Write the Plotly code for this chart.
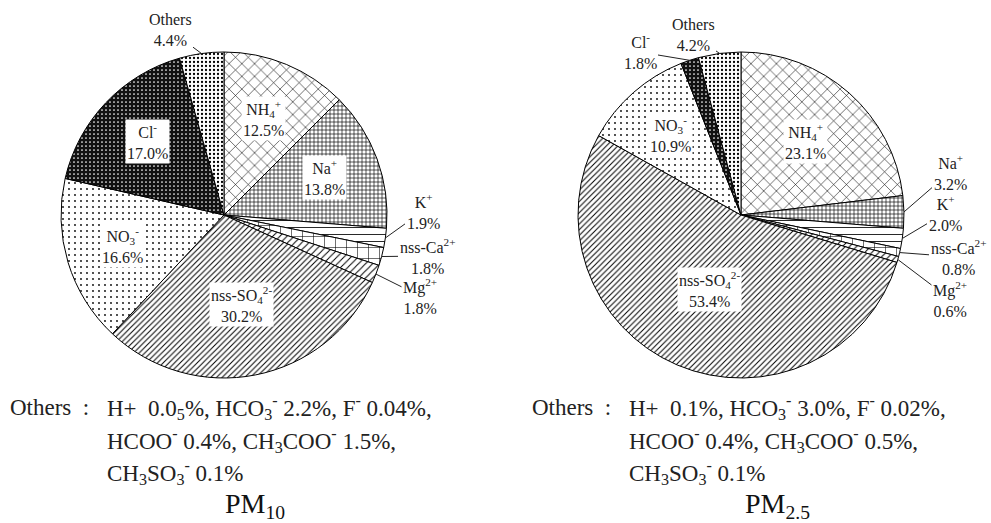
import math
import plotly.graph_objects as go

W, H = 991, 523

# ---------------- data ----------------
ions = ["NH4+", "Na+", "K+", "nss-Ca2+", "Mg2+", "nss-SO42-", "NO3-", "Cl-", "Others"]
ion_labels = ["NH<sub>4</sub><sup>+</sup>", "Na<sup>+</sup>", "K<sup>+</sup>",
              "nss-Ca<sup>2+</sup>", "Mg<sup>2+</sup>", "nss-SO<sub>4</sub><sup>2-</sup>",
              "NO<sub>3</sub><sup>-</sup>", "Cl<sup>-</sup>", "Others"]
pm10_values = [12.5, 13.8, 1.9, 1.8, 1.8, 30.2, 16.6, 17.0, 4.4]
pm25_values = [23.1, 3.2, 2.0, 0.8, 0.6, 53.4, 10.9, 1.8, 4.2]

pm10_note = ["Others&nbsp; :",
             "H+&nbsp; 0.0<sub>5</sub>%, HCO<sub>3</sub><sup>-</sup> 2.2%, F<sup>-</sup> 0.04%,",
             "HCOO<sup>-</sup> 0.4%, CH<sub>3</sub>COO<sup>-</sup> 1.5%,",
             "CH<sub>3</sub>SO<sub>3</sub><sup>-</sup> 0.1%"]
pm25_note = ["Others&nbsp; :",
             "H+&nbsp; 0.1%, HCO<sub>3</sub><sup>-</sup> 3.0%, F<sup>-</sup> 0.02%,",
             "HCOO<sup>-</sup> 0.4%, CH<sub>3</sub>COO<sup>-</sup> 0.5%,",
             "CH<sub>3</sub>SO<sub>3</sub><sup>-</sup> 0.1%"]
titles = ["PM<sub>10</sub>", "PM<sub>2.5</sub>"]

# ---------------- styles ----------------
pat_shape = ["x", "+", "-", "+", "/", "/", ".", ".", "."]
pat_size = [9, 4, 7, 11, 5, 4, 6, 4, 4]
pat_solid = [0.12, 0.3, 0.12, 0.1, 0.2, 0.25, 0.07, 0.15, 0.25]
pat_fg = ["black"] * 7 + ["white", "black"]
pat_bg = ["white"] * 7 + ["#111111", "white"]

FONT = "Liberation Serif, Times New Roman, serif"

# pie geometry (pixels)
pies = [
    dict(values=pm10_values, cx=224, cy=215, r=163,
         inside={"NH4+": 0.64, "Na+": 0.66, "nss-SO42-": 0.56, "NO3-": 0.65, "Cl-": 0.65},
         outside={"K+": (423, 211), "nss-Ca2+": (427, 256), "Mg2+": (420, 296),
                  "Others": (170, 30)},
         note_x=(8, 105), title_x=255),
    dict(values=pm25_values, cx=741, cy=215, r=163,
         inside={"NH4+": 0.6, "nss-SO42-": 0.5, "NO3-": 0.66},
         outside={"Na+": (950, 172), "K+": (945, 213), "nss-Ca2+": (958, 257),
                  "Mg2+": (950, 299), "Others": (693, 35), "Cl-": (640, 52)},
         note_x=(530, 627), title_x=777),
]
notes = [pm10_note, pm25_note]


def px(x):
    return x / W


def py(y):
    return 1 - y / H


fig = go.Figure()
annotations = []

for i, p in enumerate(pies):
    cx, cy, r = p["cx"], p["cy"], p["r"]
    fig.add_trace(go.Pie(
        labels=ions, values=p["values"], sort=False, direction="clockwise",
        rotation=0, textinfo="none", hoverinfo="label+value",
        domain=dict(x=[px(cx - r), px(cx + r)], y=[py(cy + r), py(cy - r)]),
        marker=dict(
            colors=pat_bg,
            line=dict(color="black", width=1),
            pattern=dict(shape=pat_shape, size=pat_size, solidity=pat_solid,
                         fgcolor=pat_fg, bgcolor=pat_bg, fillmode="replace"),
        ),
        showlegend=False,
    ))

    total = sum(p["values"])
    cum = 0.0
    for name, lab, v in zip(ions, ion_labels, p["values"]):
        mid = (cum + v / 2) / total * 2 * math.pi
        cum += v
        text = f"{lab}<br>{v:.1f}%"
        if name in p["inside"]:
            f = p["inside"][name]
            tx = cx + f * r * math.sin(mid)
            ty = cy - f * r * math.cos(mid)
            annotations.append(dict(
                x=px(tx), y=py(ty), xref="paper", yref="paper", text=text,
                xanchor="center", yanchor="middle",
                showarrow=False, bgcolor="white", borderpad=1,
                font=dict(family=FONT, size=16, color="#222"), align="center"))
        elif name in p["outside"]:
            ex = cx + r * math.sin(mid)
            ey = cy - r * math.cos(mid)
            tx, ty = p["outside"][name]
            annotations.append(dict(
                x=px(ex), y=py(ey), xref="paper", yref="paper", text=text,
                xanchor="center", yanchor="middle",
                showarrow=True, arrowhead=0, arrowwidth=1, arrowcolor="#222",
                ax=tx - ex, ay=ty - ey, standoff=0,
                font=dict(family=FONT, size=16, color="#222"), align="center"))

    # notes below the pie
    nx0, nx1 = p["note_x"]
    note = notes[i]
    line_y = [407, 440, 472]
    annotations.append(dict(x=px(nx0), y=py(line_y[0]), xref="paper", yref="paper",
                            text=note[0], showarrow=False, xanchor="left", yanchor="middle",
                            font=dict(family=FONT, size=23, color="#222")))
    for k in range(1, 4):
        annotations.append(dict(x=px(nx1), y=py(line_y[k - 1]), xref="paper", yref="paper",
                                text=note[k], showarrow=False, xanchor="left", yanchor="middle",
                                font=dict(family=FONT, size=23, color="#222")))
    annotations.append(dict(x=px(p["title_x"]), y=py(505), xref="paper", yref="paper",
                            text=titles[i], showarrow=False, xanchor="center", yanchor="middle",
                            font=dict(family=FONT, size=28, color="#111")))

fig.update_layout(
    width=W, height=H, margin=dict(l=0, r=0, t=0, b=0),
    paper_bgcolor="white", plot_bgcolor="white",
    annotations=annotations, showlegend=False,
)

fig.write_html("out.html", config={"displayModeBar": False},
               post_script="document.body.style.margin='0';")
